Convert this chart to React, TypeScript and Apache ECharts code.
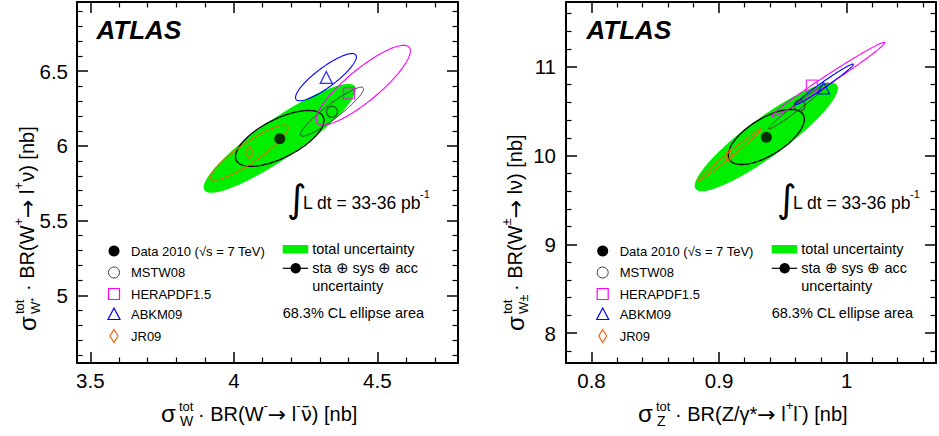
import React, { useEffect, useRef } from "react";
import * as echarts from "echarts";

// ---------- axis ranges ----------
const leftXRange = [3.4536, 4.781]; // sigma(W-) [nb]
const leftYRange = [4.547, 6.963]; // sigma(W+) [nb]
const rightXRange = [0.78, 1.07]; // sigma(Z) [nb]
const rightYRange = [7.665, 11.73]; // sigma(W) [nb]
const leftXStep = 0.5;
const leftYStep = 0.5;
const rightXStep = 0.1;
const rightYStep = 1;

// ---------- marker points [x, y] ----------
const leftData = [4.16, 6.048];
const leftMSTW = [4.342, 6.228];
const leftHERA = [4.401, 6.351];
const leftABKM = [4.322, 6.458];
const leftJR = [4.054, 5.957];

const rightData = [0.937, 10.207];
const rightMSTW = [0.9631, 10.563];
const rightHERA = [0.9727, 10.788];
const rightABKM = [0.9818, 10.762];
const rightJR = [0.9078, 10.0];

// ---------- 68.3% CL ellipses [cx, cy, halfWidthX, halfHeightY, rho] ----------
const leftTotalEll = [4.16, 6.05, 0.265, 0.364, 0.9];
const leftExpEll = [4.16, 6.05, 0.154, 0.187, 0.65];
const leftMSTWEll = [4.342, 6.229, 0.11, 0.164, 0.93];
const leftHERAEll = [4.451, 6.406, 0.164, 0.267, 0.86];
const leftABKMEll = [4.321, 6.46, 0.106, 0.158, 0.86];
const leftJREll = [4.054, 5.955, 0.135, 0.184, 0.9];

const rightTotalEll = [0.937, 10.21, 0.0561, 0.61, 0.9];
const rightExpEll = [0.937, 10.21, 0.0298, 0.31, 0.65];
const rightMSTWEll = [0.9623, 10.56, 0.0234, 0.259, 0.985];
const rightHERAEll = [0.9857, 10.859, 0.0442, 0.417, 0.99];
const rightABKMEll = [0.9826, 10.803, 0.0227, 0.229, 0.985];
const rightJREll = [0.9082, 10.008, 0.0251, 0.296, 0.993];

// ---------- texts ----------
const legendNames = ["Data 2010 (\u221As = 7 TeV)", "MSTW08", "HERAPDF1.5", "ABKM09", "JR09"];
const legendTotal = "total uncertainty";
const legendExp1 = "sta \u2295 sys \u2295 acc";
const legendExp2 = "uncertainty";
const legendCL = "68.3% CL ellipse area";
const lumiText = "L dt = 33-36 pb";
const leftXTitle = "{r|\u00B7 BR(W}{s|-}{a|\u2192}{r| l}{s|-}{nu|\u03BD\u0304}{r|) [nb]}";
const rightXTitle = "{r|\u00B7 BR(Z/\u03B3*}{a|\u2192}{r| l}{s|+}{r|l}{s|-}{r|) [nb]}";
const leftYTitle = "{r|\u00B7 BR(W}{s|+}{a|\u2192}{r| l}{s|+}{r|\u03BD) [nb]}";
const rightYTitle = "{r|\u00B7 BR(W}{s|\u00B1}{a|\u2192}{r| l\u03BD) [nb]}";

const FONT = "'Liberation Sans', Arial, Helvetica, sans-serif";
const GREEN = "#00ee00";
const MAGENTA = "#ff00ff";
const BLUE = "#0000ff";
const ORANGE = "#ee6611";
const GRAY = "#3a3a3a";

const titleRich = {
  r: { fontSize: 20, fontFamily: FONT, lineHeight: 30, fill: "#000" },
  s: { fontSize: 13, fontFamily: FONT, verticalAlign: "top", lineHeight: 16, fill: "#000" },
  a: { fontSize: 22, fontFamily: "'DejaVu Sans', sans-serif", lineHeight: 30, fill: "#000" },
  nu: { fontSize: 20, fontFamily: "'DejaVu Sans', sans-serif", lineHeight: 30, fill: "#000" },
};

function fmtTick(step: number) {
  return (v: number) => {
    const r = v / step;
    if (Math.abs(r - Math.round(r)) > 1e-6) return "";
    return String(+(Math.round(r) * step).toFixed(6));
  };
}

function makeAxes(range: number[], step: number, grid: number, dim: "x" | "y", labelMargin: number) {
  const splitNumber = Math.max(1, Math.round((range[1] - range[0]) / step));
  const common: any = {
    type: "value",
    gridIndex: grid,
    min: range[0],
    max: range[1],
    splitNumber,
    axisLine: { show: true, onZero: false, lineStyle: { color: "#000", width: 2 } },
    axisTick: { show: true, inside: true, length: 11, lineStyle: { color: "#000", width: 1.5 } },
    minorTick: { show: true, splitNumber: 5, length: 5.5, lineStyle: { color: "#000", width: 1.2 } },
    splitLine: { show: false },
    minorSplitLine: { show: false },
  };
  const main = {
    ...common,
    position: dim === "x" ? "bottom" : "left",
    axisLabel: {
      show: true,
      color: "#000",
      fontSize: 20.5,
      fontFamily: FONT,
      margin: labelMargin,
      formatter: fmtTick(step),
    },
  };
  const mirror = {
    ...common,
    position: dim === "x" ? "top" : "right",
    axisLabel: { show: false },
  };
  return [main, mirror];
}

function ellipseSeries(ell: number[], axisIdx: number, style: any) {
  return {
    type: "custom",
    xAxisIndex: axisIdx,
    yAxisIndex: axisIdx,
    clip: true,
    silent: true,
    data: [ell],
    encode: { x: 0, y: 1 },
    renderItem: (_params: any, api: any) => {
      const cx = api.value(0);
      const cy = api.value(1);
      const sx = api.value(2);
      const sy = api.value(3);
      const rho = api.value(4);
      const k = Math.sqrt(1 - rho * rho);
      const pts: number[][] = [];
      const N = 160;
      for (let i = 0; i < N; i++) {
        const th = (2 * Math.PI * i) / N;
        pts.push(api.coord([cx + sx * Math.cos(th), cy + sy * (rho * Math.cos(th) + k * Math.sin(th))]));
      }
      return { type: "polygon", shape: { points: pts }, style };
    },
  };
}

function markerSeries(pt: number[], axisIdx: number, symbol: string, size: any, color: string, filled: boolean) {
  return {
    type: "scatter",
    xAxisIndex: axisIdx,
    yAxisIndex: axisIdx,
    data: [pt],
    symbol,
    symbolSize: size,
    silent: true,
    itemStyle: filled
      ? { color }
      : { color: "rgba(0,0,0,0)", borderColor: color, borderWidth: 1.3 },
  };
}

function panelSeries(
  axisIdx: number,
  ells: { total: number[]; exp: number[]; mstw: number[]; hera: number[]; abkm: number[]; jr: number[] },
  pts: { data: number[]; mstw: number[]; hera: number[]; abkm: number[]; jr: number[] }
) {
  return [
    ellipseSeries(ells.total, axisIdx, { fill: GREEN, stroke: "none" }),
    ellipseSeries(ells.exp, axisIdx, { fill: "none", stroke: "#000", lineWidth: 1.3 }),
    ellipseSeries(ells.mstw, axisIdx, { fill: "none", stroke: GRAY, lineWidth: 1 }),
    ellipseSeries(ells.hera, axisIdx, { fill: "none", stroke: MAGENTA, lineWidth: 1.1 }),
    ellipseSeries(ells.abkm, axisIdx, { fill: "none", stroke: BLUE, lineWidth: 1.1 }),
    ellipseSeries(ells.jr, axisIdx, { fill: "none", stroke: ORANGE, lineWidth: 1.1 }),
    markerSeries(pts.mstw, axisIdx, "circle", 11, GRAY, false),
    markerSeries(pts.hera, axisIdx, "rect", 11, MAGENTA, false),
    markerSeries(pts.abkm, axisIdx, "triangle", 12, BLUE, false),
    markerSeries(pts.jr, axisIdx, "diamond", [8, 13], ORANGE, false),
    markerSeries(pts.data, axisIdx, "circle", 11, "#000", true),
  ];
}

function t(x: number, y: number, text: string, fontSize: number, extra: any = {}) {
  return {
    type: "text",
    x,
    y,
    silent: true,
    style: { text, fontSize, fontFamily: FONT, fill: "#000", align: "left", verticalAlign: "middle", ...extra },
  };
}

function legendBlock(x0: number, colX: number) {
  const ys = [251, 272.5, 294, 314.5, 336];
  const els: any[] = [];
  els.push({ type: "circle", silent: true, shape: { cx: x0, cy: ys[0], r: 5.5 }, style: { fill: "#000" } });
  els.push({ type: "circle", silent: true, shape: { cx: x0, cy: ys[1], r: 5.5 }, style: { fill: "none", stroke: GRAY, lineWidth: 1 } });
  els.push({ type: "rect", silent: true, shape: { x: x0 - 5.5, y: ys[2] - 5.5, width: 11, height: 11 }, style: { fill: "none", stroke: MAGENTA, lineWidth: 1.2 } });
  els.push({ type: "polygon", silent: true, shape: { points: [[x0, ys[3] - 6.5], [x0 - 6, ys[3] + 5], [x0 + 6, ys[3] + 5]] }, style: { fill: "none", stroke: BLUE, lineWidth: 1.2 } });
  els.push({ type: "polygon", silent: true, shape: { points: [[x0, ys[4] - 6.5], [x0 + 4, ys[4]], [x0, ys[4] + 6.5], [x0 - 4, ys[4]]] }, style: { fill: "none", stroke: ORANGE, lineWidth: 1.2 } });
  legendNames.forEach((n, i) => els.push(t(x0 + 17, ys[i], n, 13)));
  els.push({ type: "rect", silent: true, shape: { x: colX, y: 245, width: 25.5, height: 8.5 }, style: { fill: GREEN } });
  els.push(t(colX + 29.5, 248.5, legendTotal, 14.5));
  els.push({ type: "line", silent: true, shape: { x1: colX, y1: 268.3, x2: colX + 25.5, y2: 268.3 }, style: { stroke: "#000", lineWidth: 1.2 } });
  els.push({ type: "circle", silent: true, shape: { cx: colX + 13, cy: 268.3, r: 5.2 }, style: { fill: "#000" } });
  els.push(t(colX + 29.5, 268.3, legendExp1, 14.5));
  els.push(t(colX + 29.5, 286, legendExp2, 14.5));
  els.push(t(colX, 313.3, legendCL, 14.5));
  return els;
}

function lumiBlock(x0: number) {
  return [
    t(x0, 199, "\u222B", 38, { fontFamily: "'DejaVu Sans', sans-serif" }),
    t(x0 + 16, 203, lumiText, 17.5),
    t(x0 + 133, 194, "-1", 11),
  ];
}

function xTitle(x0: number, sub: string, rest: string) {
  return [
    t(x0, 413, "\u03C3", 24),
    t(x0 + 18, 406, "tot", 13),
    t(x0 + 19, 421, sub, 14),
    t(x0 + 37, 414, rest, 20, { rich: titleRich }),
  ];
}

function yTitle(cx: number, cy: number, sub: string, rest: string) {
  const x0 = -108;
  return {
    type: "group",
    x: cx,
    y: cy,
    rotation: Math.PI / 2,
    silent: true,
    children: [
      t(x0, 0, "\u03C3", 24),
      t(x0 + 17, -8, "tot", 13),
      t(x0 + 17, 8, sub, 13),
      t(x0 + 40, 0, rest, 20, { rich: titleRich }),
    ],
  };
}

export default function App() {
  const ref = useRef<HTMLDivElement>(null);
  useEffect(() => {
    if (!ref.current) return;
    const chart = echarts.init(ref.current, undefined, { renderer: "svg" });
    const [lx, lxTop] = makeAxes(leftXRange, leftXStep, 0, "x", 7);
    const [ly, lyRight] = makeAxes(leftYRange, leftYStep, 0, "y", 9);
    const [rx, rxTop] = makeAxes(rightXRange, rightXStep, 1, "x", 7);
    const [ry, ryRight] = makeAxes(rightYRange, rightYStep, 1, "y", 10);
    const option: any = {
      animation: false,
      backgroundColor: "#fff",
      grid: [
        { left: 77, top: 2, width: 381, height: 361 },
        { left: 566, top: 2, width: 372, height: 361 },
      ],
      xAxis: [lx, lxTop, rx, rxTop],
      yAxis: [ly, lyRight, ry, ryRight],
      series: [
        ...panelSeries(
          0,
          { total: leftTotalEll, exp: leftExpEll, mstw: leftMSTWEll, hera: leftHERAEll, abkm: leftABKMEll, jr: leftJREll },
          { data: leftData, mstw: leftMSTW, hera: leftHERA, abkm: leftABKM, jr: leftJR }
        ),
        ...panelSeries(
          2,
          { total: rightTotalEll, exp: rightExpEll, mstw: rightMSTWEll, hera: rightHERAEll, abkm: rightABKMEll, jr: rightJREll },
          { data: rightData, mstw: rightMSTW, hera: rightHERA, abkm: rightABKM, jr: rightJR }
        ),
      ],
      graphic: {
        elements: [
          t(96.5, 29.5, "ATLAS", 26, { fontWeight: "bold", fontStyle: "italic" }),
          t(586.5, 29.5, "ATLAS", 26, { fontWeight: "bold", fontStyle: "italic" }),
          ...lumiBlock(287),
          ...lumiBlock(777),
          ...legendBlock(114, 282.7),
          ...legendBlock(602.7, 771.7),
          ...xTitle(161, "W", leftXTitle),
          ...xTitle(638, "Z", rightXTitle),
          yTitle(27, 223, "W\u207A", leftYTitle),
          yTitle(515, 223, "W\u00B1", rightYTitle),
        ],
      },
    };
    chart.setOption(option);
    return () => chart.dispose();
  }, []);
  return <div ref={ref} style={{ position: "fixed", left: 0, top: 0, width: 939, height: 436 }} />;
}
